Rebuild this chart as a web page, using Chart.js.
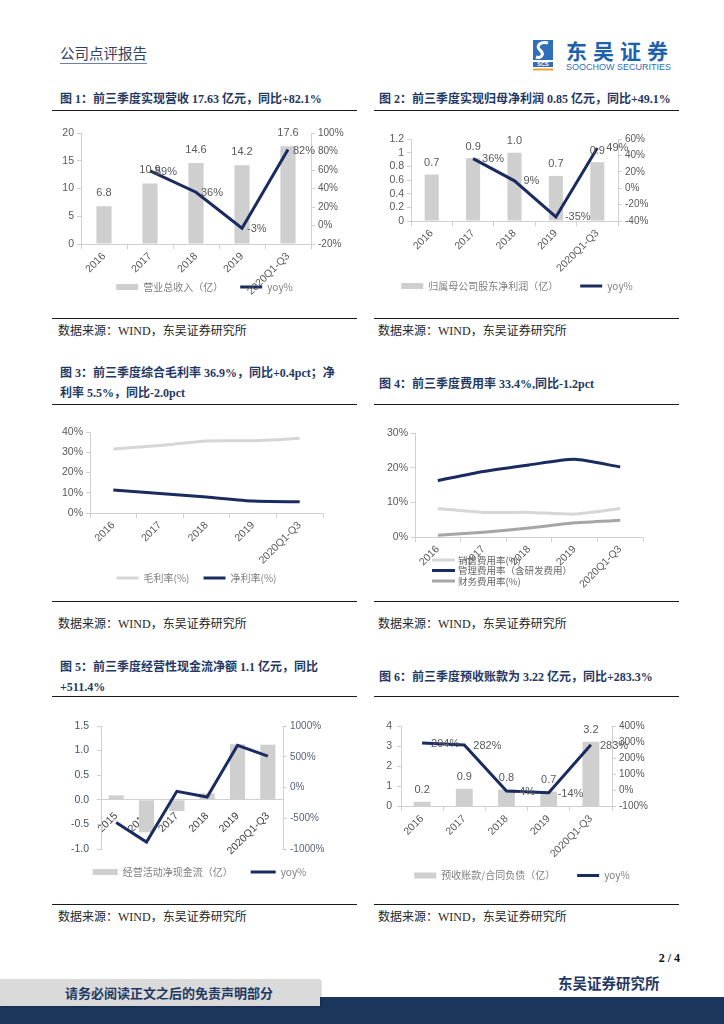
<!DOCTYPE html>
<html><head><meta charset="utf-8">
<script src="https://cdn.jsdelivr.net/npm/chart.js@4.4.0/dist/chart.umd.min.js"></script>
<style>
body{margin:0;background:#fff;width:724px;height:1024px;position:relative;overflow:hidden;font-family:"Liberation Serif","Noto Sans CJK SC",serif;}
.abs{position:absolute;white-space:nowrap;}
.title{position:absolute;font:bold 12px/20px "Liberation Serif","Noto Sans CJK SC",serif;color:#1f3864;white-space:nowrap;}
.rule{position:absolute;height:0;border-top:1.5px solid #1a1a1a;}
.src{position:absolute;font:12px/16px "Liberation Serif","Noto Sans CJK SC",serif;color:#262626;white-space:nowrap;}
canvas{position:absolute;}
</style></head><body>

<div class="abs" style="left:60px;top:43px;font:14.5px/20px 'Noto Sans CJK SC',sans-serif;color:#33405e;border-bottom:1px solid #7080a0;">公司点评报告</div>
<svg class="abs" style="left:533px;top:40px" width="20" height="32" viewBox="0 0 20 32">
  <rect x="0" y="0" width="20" height="20" fill="#2f6fb7"/>
  <path d="M15 3 C8 1,2 6,7 10 C12 14,8 19,3 17" stroke="#fff" stroke-width="3" fill="none"/>
  <rect x="0" y="22" width="20" height="5" fill="#2f6fb7"/>
  <text x="10" y="26.3" font-size="5.5" fill="#fff" text-anchor="middle" font-family="Liberation Sans" font-weight="bold">SCS</text>
  <rect x="0" y="28.5" width="20" height="2" fill="#f0a030"/>
</svg>
<div class="abs" style="left:566px;top:36px;font:bold 21px/28px 'Noto Sans CJK SC',sans-serif;color:#1e62ae;letter-spacing:6px;">东吴证券</div>
<div class="abs" style="left:566px;top:61px;font:9px/12px 'Liberation Sans',sans-serif;color:#2f6fb7;">SOOCHOW SECURITIES</div>

<!-- Row 1 -->
<div class="title" style="left:60px;top:89px;">图 1：前三季度实现营收 17.63 亿元，同比+82.1%</div>
<div class="rule" style="left:52px;top:110px;width:305px;"></div>
<canvas id="c1" width="305" height="188" style="left:52px;top:114px;"></canvas>
<div class="rule" style="left:52px;top:318px;width:305px;"></div>
<div class="src" style="left:58px;top:323px;">数据来源：WIND，东吴证券研究所</div>

<div class="title" style="left:379px;top:89px;">图 2：前三季度实现归母净利润 0.85 亿元，同比+49.1%</div>
<div class="rule" style="left:374px;top:110px;width:305px;"></div>
<canvas id="c2" width="306" height="187" style="left:374px;top:114px;"></canvas>
<div class="rule" style="left:374px;top:318px;width:305px;"></div>
<div class="src" style="left:378px;top:323px;">数据来源：WIND，东吴证券研究所</div>

<!-- Row 2 -->
<div class="title" style="left:60px;top:364px;line-height:19.5px;">图 3：前三季度综合毛利率 36.9%，同比+0.4pct；净<br>利率 5.5%，同比-2.0pct</div>
<div class="rule" style="left:52px;top:404px;width:305px;"></div>
<canvas id="c3" width="305" height="181" style="left:52px;top:412px;"></canvas>
<div class="rule" style="left:52px;top:601px;width:305px;"></div>
<div class="src" style="left:58px;top:616px;">数据来源：WIND，东吴证券研究所</div>

<div class="title" style="left:379px;top:374px;">图 4：前三季度费用率 33.4%,同比-1.2pct</div>
<div class="rule" style="left:374px;top:404px;width:305px;"></div>
<canvas id="c4" width="306" height="188" style="left:374px;top:412px;"></canvas>
<div class="rule" style="left:374px;top:601px;width:305px;"></div>
<div class="src" style="left:378px;top:616px;">数据来源：WIND，东吴证券研究所</div>

<!-- Row 3 -->
<div class="title" style="left:60px;top:657px;">图 5：前三季度经营性现金流净额 1.1 亿元，同比<br>+511.4%</div>
<div class="rule" style="left:52px;top:696px;width:305px;"></div>
<canvas id="c5" width="305" height="187" style="left:52px;top:700px;"></canvas>
<div class="rule" style="left:52px;top:904px;width:305px;"></div>
<div class="src" style="left:58px;top:909px;">数据来源：WIND，东吴证券研究所</div>

<div class="title" style="left:379px;top:667px;">图 6：前三季度预收账款为 3.22 亿元，同比+283.3%</div>
<div class="rule" style="left:374px;top:696px;width:305px;"></div>
<canvas id="c6" width="306" height="187" style="left:374px;top:700px;"></canvas>
<div class="rule" style="left:374px;top:904px;width:305px;"></div>
<div class="src" style="left:378px;top:909px;">数据来源：WIND，东吴证券研究所</div>

<!-- Footer -->
<div class="abs" style="right:44px;top:950px;font:bold 12px/16px 'Liberation Serif',serif;color:#111;">2 / 4</div>
<div class="abs" style="left:558px;top:973px;font:bold 14.5px/20px 'Noto Sans CJK SC',sans-serif;color:#1f3864;">东吴证券研究所</div>
<div class="abs" style="left:0;top:997px;width:724px;height:27px;background:#1b365d;"></div>
<div class="abs" style="left:0;top:979px;width:320px;height:27px;background:#dadada;box-shadow:1px 1px 2px rgba(0,0,0,0.25);"></div>
<div class="abs" style="left:65px;top:983px;font:bold 13px/20px 'Noto Sans CJK SC',sans-serif;color:#1f3864;">请务必阅读正文之后的免责声明部分</div>

<script>
// ---------------- data ----------------
const yearsA = ['2016', '2017', '2018', '2019', '2020Q1-Q3'];
const yearsB = ['2015', '2016', '2017', '2018', '2019', '2020Q1-Q3'];

const revenue = [6.8, 10.9, 14.6, 14.2, 17.63];
const revenueYoy = [null, 59, 36, -3, 82.1];

const netProfit = [0.68, 0.92, 1.0, 0.66, 0.86];
const netProfitYoy = [null, 36, 9, -35, 49.1];

const grossMargin = [31.6, 33.3, 35.6, 35.7, 36.9];
const netMargin = [11.4, 9.6, 7.9, 5.9, 5.5];

const sellingRate = [8.2, 7.1, 7.1, 6.6, 8.2];
const adminRate = [16.3, 18.9, 20.8, 22.4, 20.2];
const financeRate = [0.5, 1.4, 2.6, 4.1, 4.8];

const opCashFlow = [0.09, -0.66, -0.23, 0.13, 1.13, 1.12];
const opCashFlowYoy = [-569, -887, -62, -154, 687, 511.4];

const advance = [0.24, 0.88, 0.84, 0.74, 3.22];
const advanceYoy = [294, 282, -4, -14, 283.3];

// ---------------- styles ----------------
const NAVY = '#1a2b5f';
const BARGRAY = '#d0cfcf';
const LIGHTGRAY = '#d6d6d6';
const MIDGRAY = '#a6a6a6';
const TICK = '#595959';
const AXIS = '#d0d0d0';
const CJK = '"Noto Sans CJK SC", "Liberation Sans", sans-serif';
Chart.defaults.font.family = '"Liberation Sans", "Noto Sans CJK SC", sans-serif';

const pct = v => Math.round(v) + '%';
const num1 = v => String(Math.round(v * 10) / 10);
const fix1 = v => (Math.round(v * 10) / 10).toFixed(1);
const int = v => String(Math.round(v));

const valueLabels = {
  id: 'valueLabels',
  afterDatasetsDraw(chart) {
    const ctx = chart.ctx;
    chart.data.datasets.forEach((ds, i) => {
      const cfg = ds.valueLabel;
      if (!cfg) return;
      const meta = chart.getDatasetMeta(i);
      ctx.save();
      ctx.font = '11px "Liberation Sans", sans-serif';
      ctx.fillStyle = '#595959';
      meta.data.forEach((el, j) => {
        const v = ds.data[j];
        if (v === null || v === undefined) return;
        const t = cfg.fmt(v);
        if (cfg.kind === 'bar') {
          ctx.textAlign = 'center'; ctx.textBaseline = 'bottom';
          const topY = v >= 0 ? el.y : el.base;
          ctx.fillText(t, el.x, topY - cfg.gap);
        } else {
          ctx.textAlign = 'left'; ctx.textBaseline = 'middle';
          ctx.fillText(t, el.x + cfg.dx, el.y + cfg.dy);
        }
      });
      ctx.restore();
    });
  }
};
Chart.register(valueLabels);

const stackedLegend = {
  id: 'stackedLegend',
  afterDraw(chart, args, o) {
    if (!o || !o.display) return;
    const ctx = chart.ctx;
    const items = Chart.defaults.plugins.legend.labels.generateLabels(chart)
      .sort((a, b) => a.datasetIndex - b.datasetIndex);
    ctx.save();
    ctx.font = o.font; ctx.textBaseline = 'middle'; ctx.textAlign = 'left';
    items.forEach((it, i) => {
      const y = o.y + i * o.row;
      ctx.strokeStyle = it.strokeStyle; ctx.lineWidth = it.lineWidth;
      ctx.beginPath(); ctx.moveTo(o.x, y); ctx.lineTo(o.x + o.swatch, y); ctx.stroke();
      ctx.fillStyle = o.color; ctx.fillText(it.text, o.x + o.swatch + o.gap, y);
    });
    ctx.restore();
  }
};

function yAxis(min, max, step, width, position, fmt, extra) {
  const e = extra || {};
  return {
    type: 'linear', position, min, max,
    ticks: { stepSize: step, autoSkip: false, color: e.color || TICK, font: { size: e.size || 10.5 }, padding: e.pad !== undefined ? e.pad : 3, callback: fmt },
    grid: { display: true, drawOnChartArea: false, drawTicks: true, tickLength: 4, color: AXIS },
    border: { display: true, color: AXIS },
    afterFit: s => { s.width = width; }
  };
}
// x axis is pinned to the value 0 of the left axis so rotated labels are never clipped
function xAxis(extra) {
  const e = extra || {};
  return {
    type: 'category', offset: true, position: { y: 0 },
    ticks: { color: e.color || TICK, font: { size: 10.5 }, minRotation: 45, maxRotation: 45, autoSkip: false, padding: e.pad !== undefined ? e.pad : 2 },
    grid: { display: e.noTicks ? false : true, offset: true, drawOnChartArea: false, drawTicks: true, tickLength: 4, color: AXIS },
    border: { display: true, color: AXIS }
  };
}
function legend(pad, full, spacer, swatch) {
  return {
    display: true, position: 'bottom', fullSize: full,
    title: { display: spacer > 0, text: ' ', font: { size: 10 }, padding: { top: spacer, bottom: 0 } },
    labels: {
      usePointStyle: true, pointStyleWidth: swatch || 22, boxHeight: 6, padding: pad,
      color: '#7f7f7f', font: { size: 10, family: CJK },
      sort: (a, b) => a.datasetIndex - b.datasetIndex
    }
  };
}
function opts(padding, leg, scales, extraPlugins) {
  return {
    responsive: false, animation: false,
    layout: { padding },
    plugins: Object.assign({ legend: leg, tooltip: { enabled: false } }, extraPlugins || {}),
    scales
  };
}
function barDs(label, data, yAxisID, bp, vl) {
  return { type: 'bar', label, data, yAxisID, backgroundColor: BARGRAY, borderWidth: 0,
    barPercentage: bp, categoryPercentage: 1, pointStyle: 'rect', order: 2, valueLabel: vl };
}
function lineDs(label, data, yAxisID, color, vl, tension) {
  return { type: 'line', label, data, yAxisID, borderColor: color, backgroundColor: color,
    borderWidth: 3, pointRadius: 0, pointHoverRadius: 0, pointStyle: 'line',
    pointBorderColor: color, pointBackgroundColor: color, pointBorderWidth: 3,
    tension: tension || 0, order: 1, valueLabel: vl, spanGaps: false };
}

// Chart 1
new Chart(document.getElementById('c1'), {
  type: 'bar',
  data: { labels: yearsA, datasets: [
    barDs('营业总收入（亿）', revenue, 'y', 0.33, { kind: 'bar', gap: 8, fmt: fix1 }),
    lineDs('yoy%', revenueYoy, 'y1', NAVY, { kind: 'line', dx: 5, dy: 1, fmt: pct })
  ]},
  options: opts({ top: 19 }, legend(17, true, 9), {
    x: xAxis(),
    y: yAxis(0, 20, 5, 29, 'left', int),
    y1: yAxis(-20, 100, 20, 46, 'right', pct, { size: 10 })
  })
});

// Chart 2
new Chart(document.getElementById('c2'), {
  type: 'bar',
  data: { labels: yearsA, datasets: [
    barDs('归属母公司股东净利润（亿）', netProfit, 'y', 0.34, { kind: 'bar', gap: 6, fmt: fix1 }),
    lineDs('yoy%\u3000\u3000', netProfitYoy, 'y1', NAVY, { kind: 'line', dx: 9, dy: 0, fmt: pct })
  ]},
  options: opts({ top: 25 }, legend(22, true, 26), {
    x: xAxis(),
    y: yAxis(0, 1.2, 0.2, 37, 'left', num1),
    y1: yAxis(-40, 60, 20, 62, 'right', pct, { size: 10 })
  })
});

// Chart 3
new Chart(document.getElementById('c3'), {
  type: 'line',
  data: { labels: yearsA, datasets: [
    lineDs('毛利率(%)', grossMargin, 'y', LIGHTGRAY, null, 0.2),
    lineDs('净利率(%)\u3000\u3000', netMargin, 'y', NAVY, null, 0.2)
  ]},
  options: opts({ top: 20, right: 34 }, legend(14, false, 34), {
    x: xAxis(),
    y: yAxis(0, 40, 10, 38, 'left', pct)
  })
});

// Chart 4
new Chart(document.getElementById('c4'), {
  type: 'line',
  data: { labels: yearsA, datasets: [
    lineDs('销售费用率(%)', sellingRate, 'y', LIGHTGRAY, null, 0.2),
    lineDs('管理费用率（含研发费用）', adminRate, 'y', NAVY, null, 0.2),
    lineDs('财务费用率(%)', financeRate, 'y', MIDGRAY, null, 0.2)
  ]},
  options: opts({ top: 21, right: 37, bottom: 63 }, { display: false }, {
    x: xAxis(),
    y: yAxis(0, 30, 10, 41, 'left', pct)
  }, { stackedLegend: { display: true, x: 58, y: 148, row: 10.5, swatch: 23, gap: 3,
        font: '9.5px "Noto Sans CJK SC", sans-serif', color: '#666' } }),
  plugins: [stackedLegend]
});

// Chart 5
new Chart(document.getElementById('c5'), {
  type: 'bar',
  data: { labels: yearsB, datasets: [
    barDs('经营活动净现金流（亿）', opCashFlow, 'y', 0.5, null),
    lineDs('yoy%\u3000', opCashFlowYoy, 'y1', NAVY, null)
  ]},
  options: opts({ top: 26 }, legend(18, true, 0, 25), {
    x: xAxis({ color: '#404040', pad: 6, noTicks: true }),
    y: yAxis(-1, 1.5, 0.5, 49, 'left', fix1, { color: '#44546a', pad: 8 }),
    y1: yAxis(-1000, 1000, 500, 74, 'right', pct, { color: '#5a6478', size: 10 })
  })
});

// Chart 6
new Chart(document.getElementById('c6'), {
  type: 'bar',
  data: { labels: yearsA, datasets: [
    barDs('预收账款/合同负债（亿）', advance, 'y', 0.4, { kind: 'bar', gap: 6, fmt: fix1 }),
    lineDs('yoy%\u3000', advanceYoy, 'y1', NAVY, { kind: 'line', dx: 9, dy: 1, fmt: pct })
  ]},
  options: opts({ top: 26 }, legend(22, true, 30), {
    x: xAxis(),
    y: yAxis(0, 4, 1, 27, 'left', int, { pad: 5 }),
    y1: yAxis(-100, 400, 100, 68, 'right', pct, { size: 10 })
  })
});
</script>
</body></html>
